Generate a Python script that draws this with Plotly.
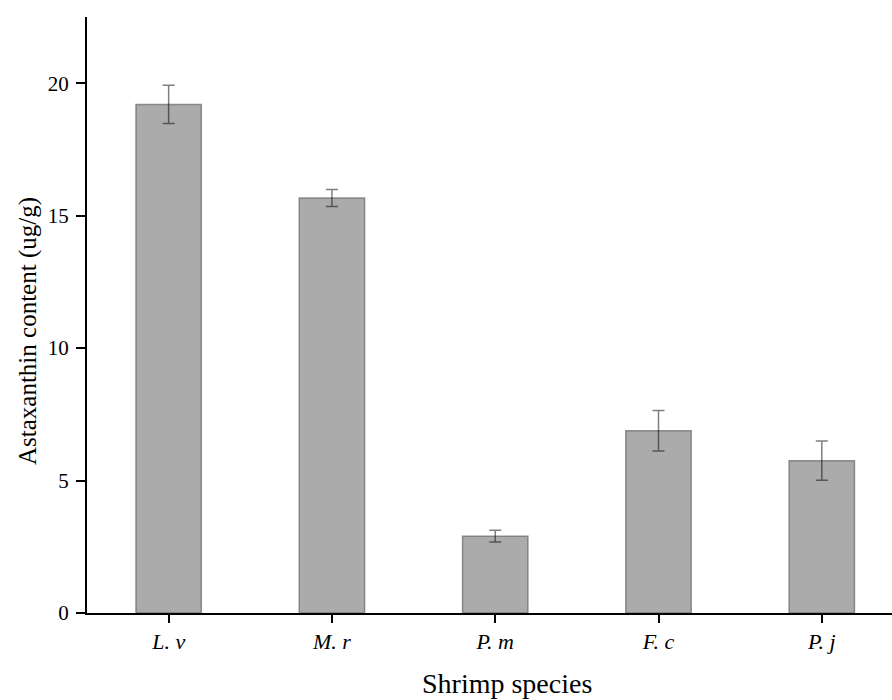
import plotly.graph_objects as go

species = ["L. v", "M. r", "P. m", "F. c", "P. j"]
astaxanthin = [19.2, 15.67, 2.9, 6.88, 5.75]
sd = [0.72, 0.32, 0.22, 0.76, 0.74]
y_ticks = [0, 5, 10, 15, 20]

tick_text = [f"<i>{s}</i>" for s in species]
x_pos = list(range(len(species)))

fig = go.Figure()
fig.add_trace(go.Bar(
    x=x_pos, y=astaxanthin, width=0.4,
    marker=dict(color="#ababab", line=dict(color="rgba(110,110,110,0.75)", width=1.5)),
    error_y=dict(type="data", array=sd, visible=True, color="rgba(0,0,0,0.5)",
                 thickness=1.5, width=6),
    showlegend=False,
))

font = "Liberation Serif, Times New Roman, serif"
fig.update_layout(
    width=892, height=700,
    margin=dict(l=87, r=0, t=17, b=87),
    plot_bgcolor="white", paper_bgcolor="white",
    font=dict(family=font, color="black", size=21),
    xaxis=dict(
        range=[-0.5, 4.43], tickvals=x_pos, ticktext=tick_text,
        showline=True, linecolor="black", linewidth=2,
        ticks="outside", ticklen=8, tickwidth=2, tickcolor="black",
        showgrid=False, zeroline=False,
        tickfont=dict(size=22),
    ),
    yaxis=dict(
        range=[0, 22.5], tickvals=y_ticks,
        showline=True, linecolor="black", linewidth=2,
        ticks="outside", ticklen=9, tickwidth=2, tickcolor="black",
        showgrid=False, zeroline=False,
        tickfont=dict(size=21), ticklabelstandoff=3,
    ),
    annotations=[
        dict(text="Shrimp species", xref="paper", yref="paper", x=0.5, y=0,
             xshift=17, yshift=-70, xanchor="center", yanchor="middle",
             showarrow=False, font=dict(size=28)),
        dict(text="Astaxanthin content (ug/g)", xref="paper", yref="paper", x=0, y=0.5,
             xshift=-59, yshift=-16, xanchor="center", yanchor="middle", textangle=-90,
             showarrow=False, font=dict(size=25)),
    ],
)
fig.update_xaxes(automargin=False)
fig.update_yaxes(automargin=False)
fig.write_html("out.html", config={"displayModeBar": False},
               post_script="document.body.style.margin='0';document.body.style.overflow='hidden';")
